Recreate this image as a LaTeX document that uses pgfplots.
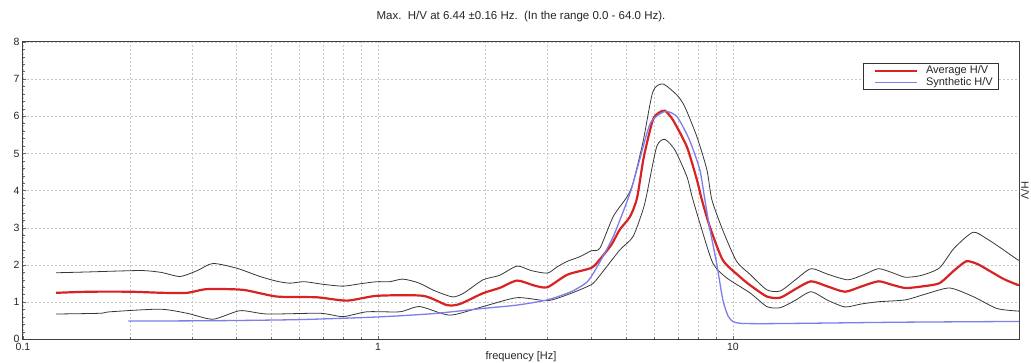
\documentclass[border=0pt]{standalone}
\usepackage{fontspec}
\setmainfont{Liberation Sans}
\usepackage{pgfplots}
\pgfplotsset{compat=1.18}
\definecolor{avgred}{RGB}{215,35,35}
\definecolor{synblue}{RGB}{125,125,235}
\definecolor{bandgray}{RGB}{55,55,55}
\definecolor{gridgray}{RGB}{200,200,200}
\begin{document}
\begin{tikzpicture}
\begin{semilogxaxis}[
  name=ax,
  scale only axis,
  width=996pt, height=297.3pt,
  xmin=0.1, xmax=64, ymin=0, ymax=8,
  xtick={0.1,1,10}, xticklabels={0.1,1,10},
  ytick={0,1,2,3,4,5,6,7,8},
  minor y tick num=4,
  xmajorgrids=true, xminorgrids=true, ymajorgrids=true,
  major grid style={gridgray, dash pattern=on 2pt off 2pt, line width=0.5pt},
  minor grid style={gridgray, dash pattern=on 2pt off 2pt, line width=0.5pt},
  tick style={black!60, line width=0.5pt},
  major tick length=3pt, minor tick length=2pt,
  tick align=inside,
  xtick pos=bottom, ytick pos=left,
  axis line style={black!75, line width=1pt},
  tick label style={font=\fontsize{10.5}{12}\selectfont, text=black!85},
  /pgf/number format/assume math mode=true,
  title={Max.\ \ H/V at 6.44 ±0.16 Hz.\ \ (In the range 0.0 - 64.0 Hz).},
  title style={at={(axis description cs:0.5,1)}, anchor=base, yshift=16pt, font=\fontsize{11.5}{13}\selectfont, text=black!85},
  xlabel={frequency [Hz]},
  xlabel style={at={(axis description cs:0.5,0)}, anchor=base, yshift=-20pt, font=\fontsize{11}{12}\selectfont, text=black!85},
  legend style={at={(axis description cs:0.980,0.929)}, anchor=north east, draw=black!80, line width=0.8pt,
    font=\fontsize{11}{12}\selectfont, text=black!85, inner xsep=4pt, inner ysep=0.5pt, row sep=-2pt,
    cells={anchor=west}},
  legend image code/.code={\draw[#1] (0pt,0pt) -- (42pt,0pt); \path (-6pt,0pt) (48pt,0pt);},
  clip=true,
]
% upper band
\addplot[bandgray, line width=0.8pt, smooth, tension=0.4, forget plot] coordinates {
(0.124,1.79) (0.15,1.81) (0.214,1.85) (0.245,1.80) (0.277,1.69) (0.31,1.85) (0.343,2.04)
(0.401,1.91) (0.465,1.69) (0.52,1.56) (0.565,1.51) (0.62,1.55) (0.70,1.48) (0.797,1.43)
(0.9,1.50) (0.994,1.55) (1.08,1.55) (1.175,1.62) (1.30,1.52) (1.45,1.30) (1.626,1.14)
(1.75,1.25) (1.977,1.60) (2.2,1.72) (2.465,1.97) (2.7,1.85) (3.0,1.78) (3.2,1.95)
(3.42,2.10) (3.7,2.22) (3.99,2.38) (4.22,2.45) (4.6,3.3) (5.03,3.83) (5.23,4.2)
(5.58,5.3) (5.95,6.66) (6.35,6.87) (6.96,6.57) (7.32,6.26) (7.92,5.45) (8.45,4.56)
(8.73,3.75) (9.38,2.92) (10.24,2.10) (11.17,1.75) (12.47,1.33) (13.6,1.30) (15.0,1.60)
(16.6,1.90) (18.5,1.75) (21.1,1.60) (23.5,1.75) (25.7,1.90) (28.0,1.80) (30.6,1.67)
(34.0,1.72) (38.2,1.92) (42.0,2.45) (47.5,2.88) (52.0,2.70) (56.6,2.47) (63.2,2.15) (64,2.13)
};
% lower band
\addplot[bandgray, line width=0.8pt, smooth, tension=0.4, forget plot] coordinates {
(0.124,0.68) (0.165,0.70) (0.176,0.74) (0.243,0.81) (0.290,0.70) (0.343,0.54) (0.409,0.77)
(0.487,0.68) (0.687,0.70) (0.797,0.61) (0.931,0.74) (1.153,0.74) (1.312,0.88) (1.595,0.65)
(1.977,0.88) (2.465,1.12) (3.0,1.04) (3.42,1.20) (3.99,1.47) (4.22,1.72) (4.8,2.40)
(5.23,2.76) (5.58,3.48) (5.72,3.9) (6.1,5.18) (6.43,5.38) (6.87,5.09) (7.42,4.38)
(7.67,3.85) (8.07,3.13) (8.78,2.05) (9.61,1.65) (11.17,1.25) (12.47,0.88) (13.6,0.85)
(15.0,1.05) (16.6,1.28) (18.5,1.05) (20.7,0.87) (23.0,0.95) (25.7,1.01) (30.6,1.06)
(35.0,1.22) (40.8,1.38) (47.5,1.15) (55.4,0.83) (63.2,0.76) (64,0.76)
};
% average
\addplot[avgred, line width=2.2pt, smooth, tension=0.4] coordinates {
(0.124,1.25) (0.154,1.28) (0.200,1.28) (0.248,1.25) (0.290,1.25) (0.330,1.35) (0.417,1.33)
(0.519,1.15) (0.673,1.13) (0.818,1.04) (0.994,1.17) (1.339,1.17) (1.565,0.92) (1.702,0.95)
(1.977,1.24) (2.2,1.38) (2.465,1.58) (2.75,1.45) (3.0,1.40) (3.42,1.74) (3.99,1.92)
(4.22,2.15) (4.55,2.55) (4.8,2.95) (5.13,3.3) (5.37,3.8) (5.61,4.9) (5.95,5.9)
(6.2,6.1) (6.44,6.15) (6.78,5.9) (7.42,5.18) (7.92,4.29) (8.18,3.75) (8.61,3.03)
(9.37,2.13) (10.47,1.68) (11.17,1.46) (12.47,1.15) (13.6,1.12) (15.0,1.35) (16.6,1.56)
(18.5,1.42) (20.7,1.28) (23.0,1.42) (25.7,1.56) (28.0,1.47) (30.6,1.38) (34.0,1.42)
(38.2,1.51) (42.0,1.85) (45.5,2.10) (49.0,2.02) (53.1,1.83) (58.0,1.62) (63.2,1.47) (64,1.46)
};
\addlegendentry{Average H/V}
% synthetic
\addplot[synblue, line width=1.3pt, smooth, tension=0.4] coordinates {
(0.198,0.49) (0.35,0.50) (0.603,0.53) (0.994,0.60) (1.429,0.69) (1.977,0.83) (2.465,0.92)
(3.0,1.06) (3.5,1.28) (3.90,1.56) (4.22,2.08) (4.6,2.76) (4.97,3.57) (5.2,4.1) (5.45,4.8)
(5.86,5.82) (6.43,6.13) (6.96,5.99) (7.55,5.36) (8.07,4.56) (8.34,3.75) (8.6,3.0)
(9.0,2.05) (9.37,1.06) (9.7,0.62) (10.0,0.48) (10.47,0.43) (12.0,0.42) (15.9,0.43)
(30,0.46) (64,0.48)
};
\addlegendentry{Synthetic H/V}
\end{semilogxaxis}
\node[rotate=-90, font=\fontsize{10.5}{12}\selectfont, text=black!85] at ([xshift=6pt]ax.east) {H/V};
\pgfresetboundingbox
\path[use as bounding box] ([xshift=-23pt,yshift=-23.7pt]ax.south west) rectangle ([xshift=12pt,yshift=42pt]ax.north east);
\end{tikzpicture}
\end{document}
